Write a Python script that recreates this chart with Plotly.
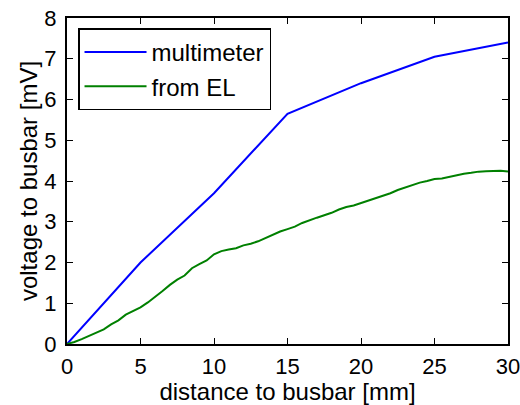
import plotly.graph_objects as go

dist_mm = [0, 5, 10, 15, 20, 25, 30]
multimeter_mV = [0.0, 2.0, 3.7, 5.65, 6.4, 7.05, 7.4]

el_dist_mm = [0, 0.5, 1, 1.5, 2, 2.5, 3, 3.5, 4, 4.5, 5, 5.5, 6, 6.5, 7, 7.5, 8, 8.5, 9, 9.5, 10,
              10.5, 11, 11.5, 12, 12.5, 13, 13.5, 14, 14.5, 15, 15.5, 16, 16.5, 17, 17.5, 18, 18.5,
              19, 19.5, 20, 20.5, 21, 21.5, 22, 22.5, 23, 23.5, 24, 24.5, 25, 25.5, 26, 26.5, 27,
              27.5, 28, 28.5, 29, 29.5, 30]
el_mV = [0.0, 0.05, 0.12, 0.2, 0.3, 0.36, 0.48, 0.58, 0.72, 0.8, 0.9, 1.02, 1.15, 1.3, 1.45, 1.58,
         1.68, 1.86, 1.96, 2.05, 2.2, 2.28, 2.32, 2.35, 2.42, 2.46, 2.52, 2.6, 2.7, 2.76, 2.82, 2.88,
         2.97, 3.04, 3.1, 3.16, 3.22, 3.3, 3.36, 3.4, 3.46, 3.52, 3.58, 3.64, 3.7, 3.78, 3.84, 3.9,
         3.96, 4.0, 4.05, 4.06, 4.1, 4.14, 4.18, 4.2, 4.23, 4.24, 4.25, 4.25, 4.23]

x_ticks = [0, 5, 10, 15, 20, 25, 30]
y_ticks = [0, 1, 2, 3, 4, 5, 6, 7, 8]

FONT = "Liberation Sans, Arial, sans-serif"
TICK_FS = 22
TITLE_FS = 24

fig = go.Figure()
fig.add_trace(go.Scatter(x=dist_mm, y=multimeter_mV, mode="lines", name="multimeter",
                         line=dict(color="#0000ff", width=2)))
fig.add_trace(go.Scatter(x=el_dist_mm, y=el_mV, mode="lines", name="from EL",
                         line=dict(color="#008000", width=2)))

axis_common = dict(showgrid=False, zeroline=False, showline=True, linecolor="black", linewidth=2,
                   mirror="allticks", ticks="inside", ticklen=6, tickwidth=1, tickcolor="black",
                   automargin=False, ticklabeloverflow="allow",
                   tickfont=dict(family=FONT, size=TICK_FS, color="black"))

fig.update_xaxes(range=[0, 30], tickvals=x_ticks, ticktext=[str(v) for v in x_ticks],
                 title=dict(text="distance to busbar [mm]", font=dict(family=FONT, size=TITLE_FS, color="black"),
                            standoff=0), ticklabelstandoff=2, **axis_common)
fig.update_yaxes(range=[0, 8], tickvals=y_ticks, ticktext=[str(v) for v in y_ticks],
                 title=dict(text="voltage to busbar [mV]", font=dict(family=FONT, size=TITLE_FS, color="black"),
                            standoff=0), ticklabelstandoff=4, **axis_common)

fig.update_layout(
    width=520, height=405,
    margin=dict(l=67, r=12, t=18, b=61, autoexpand=False),
    paper_bgcolor="white", plot_bgcolor="white",
    font=dict(family=FONT, size=TITLE_FS, color="black"),
    legend=dict(x=0.025, y=0.968, xanchor="left", yanchor="top",
                bordercolor="black", borderwidth=1.5, bgcolor="white",
                font=dict(family=FONT, size=TITLE_FS, color="black"),
                itemwidth=62, tracegroupgap=0),
    showlegend=True,
)

fig.write_html("out.html")
